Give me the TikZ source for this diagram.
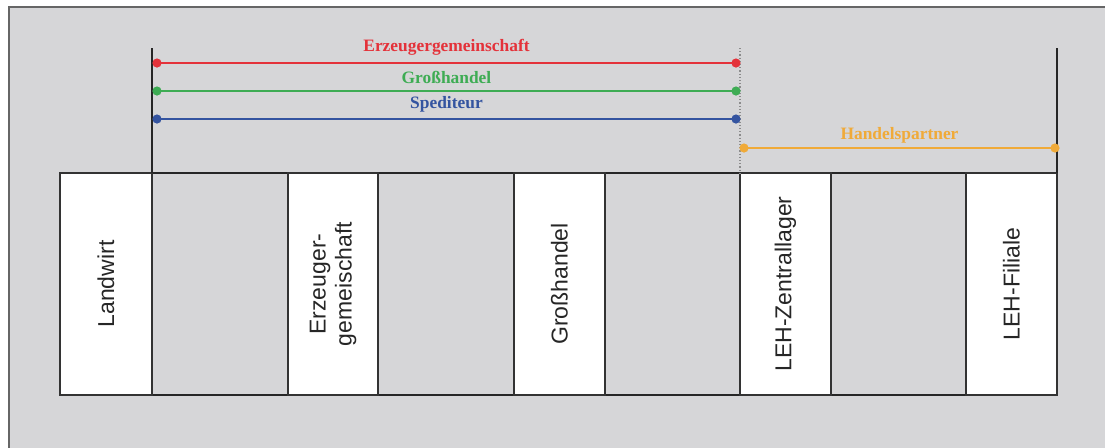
\documentclass[tikz,border=0pt]{standalone}
\usepackage{fontspec}
\setmainfont{Liberation Serif}
\newfontfamily\stagefont{Liberation Sans}
\usetikzlibrary{positioning}
\definecolor{panelgray}{RGB}{214,214,216}
\definecolor{spanred}{RGB}{228,50,58}
\definecolor{spangreen}{RGB}{62,172,84}
\definecolor{spanblue}{RGB}{52,84,160}
\definecolor{spanorange}{RGB}{240,170,56}
\tikzset{
  stage/.style={draw=black!80, fill=white, line width=0.75pt, rotate=90,
    minimum width=111pt, inner sep=0pt, align=center, text=black!85,
    font=\stagefont\fontsize{11.5}{13}\selectfont},
  span/.style={line width=1.2pt},
  spanlabel/.style={inner sep=0pt, font=\bfseries\fontsize{8.7}{10}\selectfont},
  bound/.style={black!85, line width=0.75pt},
}
\newcommand{\spandot}[2]{\fill[#1] (#2) circle (2.3pt);}

\begin{document}
\begin{tikzpicture}[x=0.5pt, y=-0.5pt]
	%%%%% PANEL %%%%%
	\useasboundingbox (0,0) rectangle (1105,447);
	\clip (0,0) rectangle (1105,447);
	\draw[draw=black!60, line width=1pt, fill=panelgray] (9,7) rectangle (1120,460);
	
	%%%%% STAGES %%%%%
	\draw[bound] (60,173) rectangle (1057,395);
	\node[stage, minimum height=46pt] (landwirt) at (106,284) {Landwirt};
	\node[stage, minimum height=45pt] (erzeuger) at (333,284) {Erzeuger-\\gemeischaft};
	\node[stage, minimum height=45.5pt] (grosshandel) at (559.5,284) {Großhandel};
	\node[stage, minimum height=45.5pt] (zentrallager) at (785.5,284) {LEH-Zentrallager};
	\node[stage, minimum height=45.5pt] (filiale) at (1011.5,284) {LEH-Filiale};
	
	%%%%% BOUNDARIES %%%%%
	\coordinate (lefttop) at (152,48);
	\coordinate (leftbot) at (152,173);
	\coordinate (midtop) at (740,48);
	\coordinate (midbot) at (740,173);
	\coordinate (righttop) at (1057,48);
	\coordinate (rightbot) at (1057,173);
	\draw[bound] (lefttop) -- (leftbot);
	\draw[bound] (righttop) -- (rightbot);
	\draw[black!45, line width=0.6pt, densely dotted] (midtop) -- (midbot);
	
	%%%%% SPANS %%%%%
	\coordinate (ezL) at (157,63);
	\coordinate (ezR) at (736,63);
	\draw[span, spanred] (ezL) -- node[spanlabel, above=3pt] {Erzeugergemeinschaft} (ezR);
	\spandot{spanred}{ezL} \spandot{spanred}{ezR}
	
	\coordinate (ghL) at (157,91);
	\coordinate (ghR) at (736,91);
	\draw[span, spangreen] (ghL) -- node[spanlabel, above=3pt] {Großhandel} (ghR);
	\spandot{spangreen}{ghL} \spandot{spangreen}{ghR}
	
	\coordinate (spL) at (157,119);
	\coordinate (spR) at (736,119);
	\draw[span, spanblue] (spL) -- node[spanlabel, above=3pt] {Spediteur} (spR);
	\spandot{spanblue}{spL} \spandot{spanblue}{spR}
	
	\coordinate (hpL) at (744,148);
	\coordinate (hpR) at (1055,148);
	\draw[span, spanorange] (hpL) -- node[spanlabel, above=2pt] {Handelspartner} (hpR);
	\spandot{spanorange}{hpL} \spandot{spanorange}{hpR}
	%%%%% END %%%%%
\end{tikzpicture}
\end{document}
